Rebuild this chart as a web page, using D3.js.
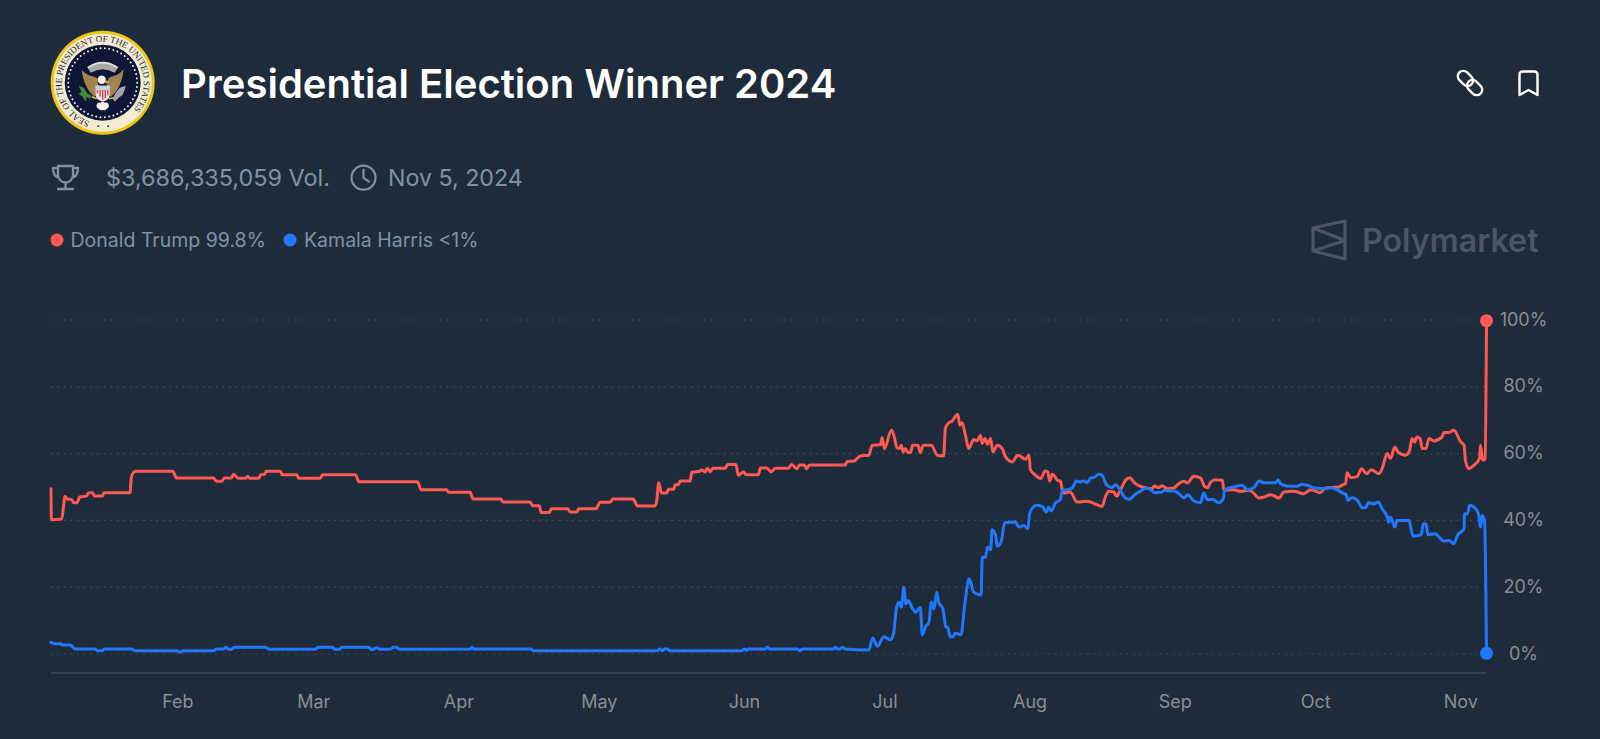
<!DOCTYPE html>
<html>
<head>
<meta charset="utf-8">
<script src="https://cdn.jsdelivr.net/npm/d3@7"></script>
<style>
  html, body { margin: 0; padding: 0; background: #1d2b3a; overflow: hidden; }
  svg { display: block; font-family: Inter, "Noto Sans", sans-serif; }
  .axis .domain { display: none; }
</style>
</head>
<body>
<div id="chart"></div>
<script>
// days are counted from startDate, values are percent
const startDate = new Date(Date.UTC(2024, 0, 5))
const lastDay = 306.6
const yTicks = [0, 20, 40, 60, 80, 100]

const trumpDays = [0,0.1,2.3,3,3.5,4.4,4.9,5.5,6.2,7.6,8,8.9,9.3,11,11.3,16.9,17.2,18,26,26.8,34.7,35.4,36.5,37,38.5,39,40,41.5,42,42.5,44.4,44.8,45.6,46,49,49.4,52.5,52.9,57.5,58,65,65.8,78.3,79,84.5,84.9,89.5,90.2,96.1,96.5,102.3,102.9,104.3,104.7,106.5,106.8,110.4,110.9,112.4,112.7,116.4,117.3,119.4,120,124.3,125.3,129,129.4,129.8,130.4,131.5,131.9,133,133.3,134,134.4,136.5,136.9,138.7,139,139.7,140.2,140.8,141.4,144,144.5,146.3,146.8,147.9,148.5,151.1,151.5,152.9,153.8,154.7,157.5,158.2,159.3,159.9,160.9,161.4,162,169.7,170,171.5,172.9,174.7,175.4,177.2,177.5,178,179.5,180,180.7,181.2,181.6,182,182.5,183,183.6,184,185.2,185.7,186.3,188,189.3,190.7,191,191.8,192.5,193,193.7,194.1,194.6,195.3,196,197.1,197.8,198.5,198.9,199.5,200,200.7,201.2,202.1,203.2,203.9,205.3,206.5,208.2,208.9,209.2,210.3,211.4,212.3,212.9,213.3,213.9,215,215.6,216,216.3,217.7,219.2,221,222,223.4,224.5,225.2,225.9,227,227.6,228.4,229.5,230.4,231.6,233.1,235.2,235.6,236.6,237.3,238.4,239.8,240.9,242,242.7,244.1,245.5,246.4,247,247.7,248.7,250.2,250.5,252.6,254.1,255.9,256.6,258,259.1,260.5,262.3,263.3,265.4,267.6,269,271.1,272.2,275,276.1,276.5,276.8,277.6,279,279.9,281,282,283.6,284.3,285.4,286.1,287,287.7,289.3,290.2,290.7,291.3,291.7,292.4,292.9,293.7,294.3,295.4,297.1,297.5,298.6,299.6,301.1,301.8,302.1,302.8,303.9,305.1,305.3,305.8,306.3,306.6]
const trumpValues = [49.5,40.2,40.4,47.2,46.4,46.3,45.3,45.3,47,47.3,48.3,48.3,47.3,47.3,48.3,48.3,53,54.7,54.7,52.7,52.7,51.7,51.7,52.7,52.7,53.8,52.6,52.6,53.2,52.6,52.6,53.7,53.8,54.7,54.7,53.7,53.7,52.6,52.6,53.7,53.7,51.6,51.6,49.2,49.2,48.4,48.4,46.4,46.4,45.5,45.5,44.4,44.4,42.4,42.4,43.5,43.5,42.5,42.5,43.5,43.5,45.4,45.4,46.4,46.4,44.3,44.3,46,51.3,48.2,48.2,49.3,49.3,50.7,50.7,51.8,51.8,54.4,54.8,55.2,54.5,55.6,54.6,55.6,55.6,56.7,56.7,53.5,54.5,53.7,53.7,55.7,55.7,54.5,55.6,55.6,56.7,55.5,56.6,56.6,55.5,56.6,56.6,57.6,57.8,59.3,59.5,62.5,62.7,64.8,61.5,67,65.5,61.8,61.5,62.5,60.5,61.5,60.3,60.3,62.5,62.5,60.3,62.5,62.5,59.5,59.3,67.5,69.3,69.8,70.8,71.8,68.5,69.2,65.5,61.5,64.2,63.8,65.5,63,64.5,62.8,64.5,60.5,62.5,61.5,59,57.5,59.5,58.3,59.5,55.2,53.5,52.5,54.8,54.5,51.8,53.8,52,51.8,49,48.2,48.5,45.5,45.7,45.5,44.7,44.2,47,48.7,48.5,47.2,49,52,52.8,51,50,49.5,50.3,49.8,50.4,49.5,49.7,51,51.7,51.2,53.2,52.7,50.2,49.8,51.5,52.2,52,49,49.2,48.7,49,48.5,46.7,47,47.7,46.7,48.5,48.7,48,49.2,48.3,49.7,50,50.8,51,54.3,52.8,53.2,55.5,54,55.2,54,55.5,60,58.5,62,60.5,59.5,61,64.5,63.5,65,64.5,61.5,61.5,64.5,63.8,65,66.3,66.3,67,63.5,62.5,58,55.5,56.5,58.5,62.5,58,58.5,99.8]

const harrisDays = [0,0.9,2.1,2.4,4.2,5.1,9.4,10,11,11.3,17.1,17.9,26.9,27.6,28.3,34.8,35.4,36.8,37.3,38,38.6,39.1,45.7,46.7,56.4,57.1,60,60.7,61.6,62.1,67.8,68.5,69.6,70.3,72.4,73.2,73.9,74.4,81,89.6,89.9,90.4,102.4,103.1,129.5,130,130.5,131.1,131.6,132.2,147.6,148.1,148.5,149,152.6,153,153.5,159.4,159.9,160.5,167.1,167.6,168.1,168.6,169,169.6,174.7,175.5,176.5,177.9,179.3,180,180.6,181.2,181.6,182.2,182.6,183.1,183.9,184.7,185.7,186.1,186.8,187.5,188,188.6,189.2,189.6,190.5,191.1,191.6,192,192.7,193.1,194.4,195.1,196.1,197.1,198.7,198.9,199.6,200,200.7,201,201.8,202.1,203,203.7,206,206.7,207.8,208.7,209,209.8,210.6,211.7,212.6,213.1,213.6,214.5,215.6,216,217,218.1,219,219.9,220.6,221.3,222,222.7,223.8,224.5,225.4,226.7,227.4,228.4,229.4,230.4,231.3,232.4,234.1,235.9,237.3,237.8,238.8,239.8,240.9,242,242.8,244.1,245.5,246.2,247,248,249.4,250.4,250.7,252.6,254.4,255.5,256.9,258,259.1,261.6,262.1,262.6,264,266.2,267.2,268.3,270.1,271.9,273.3,274.7,276.1,276.6,277,277.9,279,280.1,280.8,281.3,282.5,283.5,284.3,285.4,285.7,286.1,287,287.5,290,290.9,292.2,292.7,293.1,293.7,294.1,295.6,297.5,298.6,299.6,300.4,301.8,301.9,302.5,303,303.9,304.9,305.3,305.7,306.2,306.6]
const harrisValues = [3.5,3.1,3.1,2.7,2.7,1.5,1.5,1,1,1.5,1.5,1,1,0.5,1,1,1.5,1.5,2,1.4,1.4,2,2,1.4,1.4,2,2,1.4,1.4,2,2,1.3,1.9,1.4,1.4,2,2,1.4,1.4,1.5,2,1.5,1.5,1,1,1.5,1,1.5,1.5,1,1,1.5,1.1,1.5,1.5,2,1.5,1.5,1,1.5,1.5,2,1.5,1.5,2,1.5,1.2,4.8,2.3,5.2,4.2,6.5,14,15.5,14,20,15,16,14,12.5,14,5.7,8.2,9.5,15.5,13.5,18.5,15.5,13.5,8.2,7.8,5.2,5.2,6.2,5.8,14,22.5,18.5,17.7,29,29,32,31.2,37.2,35.2,32.3,34,39.3,39.5,38,38.5,37.5,42,44,44.5,44.2,42.5,44,42.8,45.2,46.2,49,49.2,49.7,51.8,51.5,51.8,51.3,52.7,52.8,53.8,53.5,50.7,49.8,50.7,49,46.8,46.3,47.5,48.5,49.7,48.3,48.5,49,48.8,48.8,48,46.8,47.7,45.8,45.3,48.2,46.2,46.3,45.3,46.5,49.2,50,50.5,49.2,49.8,51.8,51.3,51.3,52.2,51,50.3,50.2,50.8,50.5,49.7,49.5,49.8,49.2,48,47.8,46,46.8,46,43.8,43.8,45.3,45,45.5,43.5,41,39.5,41,38,40,40,35.3,35.5,35.8,39,39,35.7,36,33.8,34,33,35.5,37.5,42,42,44.5,44,42,38,41.5,40,0.2]

const width = 1600, height = 739
const margin = { left: 51, right: 1486.5, top: 320, bottom: 654 }
const bg = "#1d2b3a", red = "#ff5952", blue = "#2178ff"
const muted = "#7f93a8", axisColor = "#878f95"

const toDate = d => d3.utcHour.offset(startDate, d * 24)

const x = d3.scaleUtc().domain([startDate, toDate(lastDay)]).range([margin.left, margin.right])
const y = d3.scaleLinear().domain([0, 100]).range([margin.bottom, margin.top])

const svg = d3.select("#chart").append("svg").attr("width", width).attr("height", height)
svg.append("rect").attr("width", width).attr("height", height).attr("fill", bg)

// ---- header ----
drawSeal(svg.append("g").attr("transform", "translate(102.7,82.7)"))

svg.append("text").attr("x", 181).attr("y", 98).attr("fill", "#fff")
  .attr("font-size", 40).attr("font-weight", 600).text("Presidential Election Winner 2024")

// link icon
const link = svg.append("g").attr("transform", "translate(1470,83) rotate(-45)")
  .attr("fill", "none").attr("stroke", "#fff").attr("stroke-width", 2.3)
link.append("rect").attr("x", -5.5).attr("y", -15).attr("width", 11).attr("height", 17).attr("rx", 5.5)
link.append("rect").attr("x", -5.5).attr("y", -2).attr("width", 11).attr("height", 17).attr("rx", 5.5)

// bookmark icon
svg.append("path").attr("d", "M1519.5 74.5a3 3 0 0 1 3-3h12a3 3 0 0 1 3 3v20.5l-9-5-9 5z")
  .attr("fill", "none").attr("stroke", "#fff").attr("stroke-width", 2.4).attr("stroke-linejoin", "round")

// trophy icon
svg.append("path")
  .attr("d", "M58 166h15v9a7.5 7.5 0 0 1-15 0zM58 168h-5c0 6 2 9 6.5 10M73 168h5c0 6-2 9-6.5 10M65.5 182.500v6M57 189h17")
  .attr("fill", "none").attr("stroke", muted).attr("stroke-width", 2.3).attr("stroke-linejoin", "round")

// clock icon
svg.append("circle").attr("cx", 363.500).attr("cy", 177.700).attr("r", 12)
  .attr("fill", "none").attr("stroke", muted).attr("stroke-width", 2.2)
svg.append("path").attr("d", "M363.500 169.500v8.500l5.500 3.500")
  .attr("fill", "none").attr("stroke", muted).attr("stroke-width", 2.2).attr("stroke-linecap", "round")

svg.append("text").attr("x", 106).attr("y", 186).attr("fill", muted).attr("font-size", 23.4).text("$3,686,335,059 Vol.")
svg.append("text").attr("x", 388).attr("y", 186).attr("fill", muted).attr("font-size", 23.2).text("Nov 5, 2024")

// legend
svg.append("circle").attr("cx", 57).attr("cy", 240).attr("r", 6.5).attr("fill", red)
svg.append("text").attr("x", 70.5).attr("y", 247).attr("fill", muted).attr("font-size", 19.5).text("Donald Trump 99.8%")
svg.append("circle").attr("cx", 290).attr("cy", 240).attr("r", 6.5).attr("fill", blue)
svg.append("text").attr("x", 304).attr("y", 247).attr("fill", muted).attr("font-size", 19.5).text("Kamala Harris <1%")

// watermark
const mark = "#4a5665"
svg.append("path").attr("d", "M1345 221v38l-32-8v-23zM1313 228l32 12.500M1313 251l32-10.500")
  .attr("fill", "none").attr("stroke", mark).attr("stroke-width", 3.2).attr("stroke-linejoin", "round")
svg.append("text").attr("x", 1362).attr("y", 252).attr("fill", mark).attr("font-size", 32.2)
  .attr("font-weight", 600).text("Polymarket")

// ---- axes ----
const yAxis = svg.append("g").attr("class", "axis").attr("transform", `translate(${margin.right},-0.7)`)
  .call(d3.axisRight(y).tickValues(yTicks).tickSize(0).tickPadding(37).tickFormat(d => d + "%"))
yAxis.selectAll("text").attr("fill", axisColor).attr("font-size", 18).attr("text-anchor", "middle")
  .attr("font-family", "Inter")

svg.append("g").selectAll("line").data(yTicks).join("line")
  .attr("x1", margin.left).attr("x2", margin.right)
  .attr("y1", d => y(d)).attr("y2", d => y(d))
  .attr("stroke", "#4b5663").attr("stroke-width", 1.2).attr("stroke-dasharray", "1.3 5.3")

svg.append("line").attr("x1", margin.left).attr("x2", margin.right).attr("y1", 673).attr("y2", 673)
  .attr("stroke", "#3f4c5b").attr("stroke-width", 1.4)

const xAxis = svg.append("g").attr("class", "axis").attr("transform", "translate(0,673)")
  .call(d3.axisBottom(x).ticks(d3.utcMonth.every(1)).tickSize(0).tickPadding(22.5).tickFormat(d3.utcFormat("%b")))
xAxis.selectAll("text").attr("fill", axisColor).attr("font-size", 18).attr("font-family", "Inter")

// ---- lines ----
const line = d3.line().x(d => x(toDate(d[0]))).y(d => y(d[1])).curve(d3.curveMonotoneX)

const series = [
  { color: red, days: trumpDays, values: trumpValues },
  { color: blue, days: harrisDays, values: harrisValues }
]
series.forEach(s => {
  const points = d3.zip(s.days, s.values)
  svg.append("path").datum(points).attr("d", line)
    .attr("fill", "none").attr("stroke", s.color).attr("stroke-width", 3)
    .attr("stroke-linejoin", "round").attr("stroke-linecap", "round")
  const last = points[points.length - 1]
  svg.append("circle").attr("cx", x(toDate(last[0]))).attr("cy", y(last[1])).attr("r", 6.5).attr("fill", s.color)
})

// presidential seal, rough version of the logo
function drawSeal(g) {
  g.append("circle").attr("r", 52).attr("fill", "#eec61a")
  g.append("circle").attr("r", 49).attr("fill", "#f4ecd2")
  g.append("circle").attr("r", 38).attr("fill", "#0e1638")

  g.append("defs").append("path").attr("id", "sealRing").attr("d", "M-13 38.900A41 41 0 1 1 16 37.800")
  g.append("text").attr("font-size", 9).attr("font-family", "Liberation Serif").attr("fill", "#23232f")
    .append("textPath").attr("href", "#sealRing").text("SEAL OF THE PRESIDENT OF THE UNITED STATES")

  g.selectAll("circle.bottomDot").data([-4.5, 5.5]).join("circle").attr("class", "bottomDot")
    .attr("cx", d => d).attr("cy", 43.5).attr("r", 0.9).attr("fill", "#23232f")

  // ring of stars
  g.append("g").selectAll("circle").data(d3.range(50)).join("circle")
    .attr("cx", d => 34.5 * Math.cos(d / 50 * 2 * Math.PI))
    .attr("cy", d => 34.5 * Math.sin(d / 50 * 2 * Math.PI))
    .attr("r", 1).attr("fill", "#f3f1e6")

  // clouds above the eagle
  g.append("path").attr("d", "M-15 -15Q0 -25 15 -15L12 -10Q0 -17 -12 -10z").attr("fill", "#a9a8a4")
  g.append("path").attr("d", "M-15 -15Q0 -25 15 -15").attr("fill", "none").attr("stroke", "#e6e4da").attr("stroke-width", 1.8)

  // wings and head
  g.append("path").attr("d", "M-21 -13C-17 -8 -12 -7 -6 -5L-3 8L-8 14C-16 8 -20 -3 -21 -13z").attr("fill", "#a5834f")
  g.append("path").attr("d", "M21 -14C17 -8 12 -7 6 -5L3 8L8 14C16 8 20 -3 21 -14z").attr("fill", "#a5834f")
  g.append("circle").attr("cx", -1).attr("cy", -3).attr("r", 4.2).attr("fill", "#f4f1e6")
  g.append("path").attr("d", "M2 -3L7 -1L3 1z").attr("fill", "#d9b24a")

  // shield
  g.append("path").attr("d", "M-7 3H7V12C7 16 3 18 0 19C-3 18 -7 16 -7 12z").attr("fill", "#f3ecea")
  g.selectAll("rect.stripe").data([-6, -3.400, -0.800, 1.800, 4.400]).join("rect").attr("class", "stripe")
    .attr("x", d => d).attr("y", 7).attr("width", 1.5).attr("height", d => 11 - Math.abs(d + 0.050) * 1.2).attr("fill", "#c8495a")
  g.append("path").attr("d", "M-7 3H7V7H-7z").attr("fill", "#c3d3e6")

  // olive branch and arrows
  g.append("path").attr("d", "M-24 3L-19 5L-16 10L-11 13L-13 16L-16 14L-17 19L-20 14L-24 11L-21 9z").attr("fill", "#3f8a35")
  g.append("path").attr("d", "M23 3L17 5L13 10L10 16L12 19L16 15L20 12L22 7z").attr("fill", "#a3a3a9")
  g.append("path").attr("d", "M-11 14L-6 16M11 15L6 16").attr("stroke", "#e2c04e").attr("stroke-width", 1.6)

  // cloud under the shield
  g.append("path").attr("d", "M-6 22a3 3 0 0 1 4 -2a3 3 0 0 1 4 0a3 3 0 0 1 4 2a3 3 0 0 1 -2 4a3 3 0 0 1 -4 1a3 3 0 0 1 -4 -1a3 3 0 0 1 -2 -4z").attr("fill", "#f4f1e6")
}
</script>
</body>
</html>
